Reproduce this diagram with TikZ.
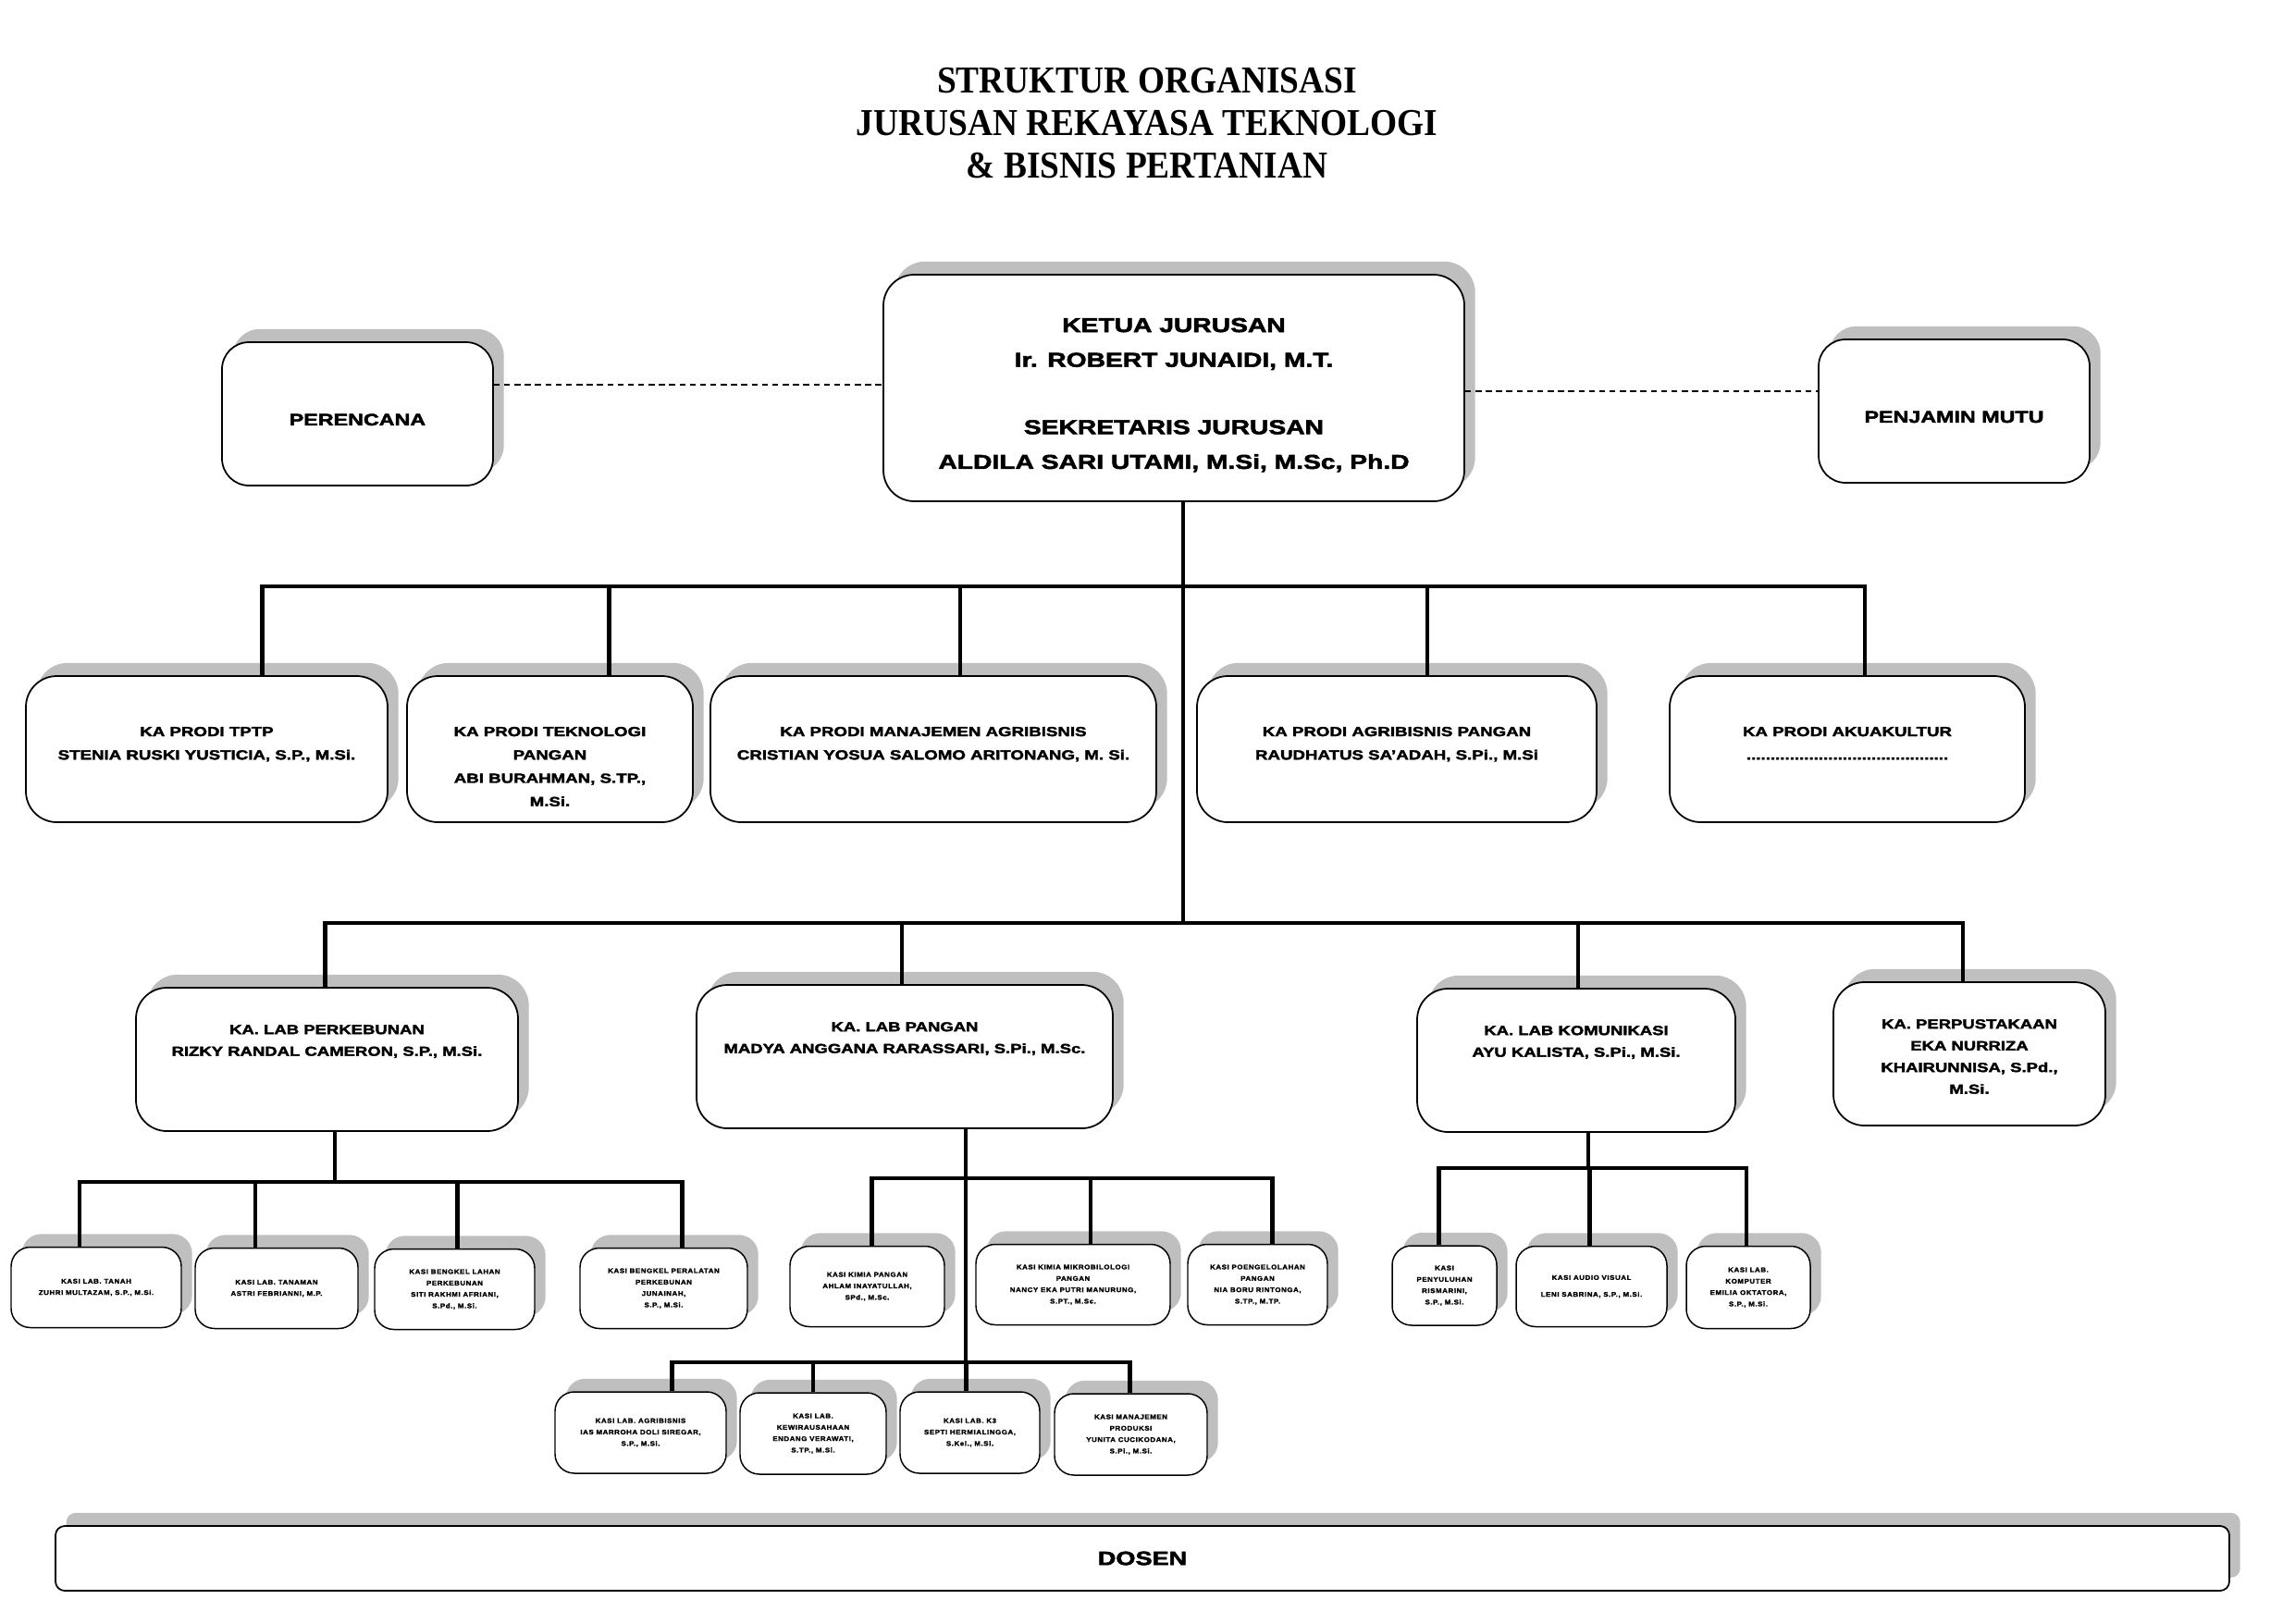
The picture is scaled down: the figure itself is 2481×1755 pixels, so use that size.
\documentclass[tikz,border=0pt]{standalone}
\usepackage{fontspec}
\setmainfont{Liberation Serif}
\newfontfamily\boxfont{Liberation Sans}[FakeStretch=1.3, BoldFeatures={FakeBold=2.5}]
\newfontfamily\kasifont{Liberation Sans}[FakeStretch=1.1, LetterSpace=8, BoldFeatures={FakeBold=2}]
\newfontfamily\titlefont{Liberation Serif}[FakeStretch=0.91]
\usetikzlibrary{shadows, positioning}
\newcommand\pxu{0.011971cm}
\newcommand\toplines[1]{\begin{tabular}[t]{@{}c@{}}#1\end{tabular}}
\tikzset{
    sz/.style n args={2}{minimum width=#1*\pxu, minimum height=#2*\pxu}
}

\begin{document}
\begin{tikzpicture}[
        x=\pxu, y=-\pxu,
        boxshadow/.style={drop shadow={shadow xshift=0.14cm, shadow yshift=0.17cm, fill=black!25, opacity=1}},
        box/.style={
            rectangle, rounded corners=0.4cm, draw=black, line width=0.6pt,
            fill=white, inner sep=0pt, align=center, boxshadow
        },
        title/.style={align=center, font=\titlefont\bfseries\fontsize{14}{15.6}\selectfont},
        headbox/.style={box, text height=0.742cm, text depth=2.19cm,
            font=\boxfont\bfseries\fontsize{7.4}{12.8}\selectfont},
        sidebox/.style={box, rounded corners=0.35cm, text height=1.077cm, text depth=0.778cm,
            font=\boxfont\bfseries\fontsize{6.1}{9}\selectfont},
        prodi/.style={box, text height=0.778cm, text depth=1.113cm,
            font=\boxfont\bfseries\fontsize{4.9}{8.6}\selectfont},
        lab/.style={box, text height=0.6cm, text depth=1.255cm,
            font=\boxfont\bfseries\fontsize{4.85}{8}\selectfont},
        kasi/.style={box, rounded corners=0.25cm, line width=0.5pt,
            font=\kasifont\bfseries\fontsize{2.45}{4.2}\selectfont},
        dosenbar/.style={box, rounded corners=0.12cm, font=\boxfont\bfseries\fontsize{7.1}{9}\selectfont},
        link/.style={line width=1.4pt},
        dotlink/.style={line width=0.6pt, dash pattern=on 2.2pt off 1.6pt}
    ]
        \path[use as bounding box, fill=white] (0,0) rectangle (2481,1755);

        % Title
        \node[title] (ttl) at (1240,133) {STRUKTUR ORGANISASI\\JURUSAN REKAYASA TEKNOLOGI\\\& BISNIS PERTANIAN};

        % Top level
        \node[headbox, sz={628}{245}] (head) at (1269,419.5) {\toplines{KETUA JURUSAN\\Ir. ROBERT JUNAIDI, M.T.\\[12pt]SEKRETARIS JURUSAN\\ALDILA SARI UTAMI, M.Si, M.Sc, Ph.D}};
        \node[sidebox, sz={293}{155}] (pren) at (386.5,447.5) {PERENCANA};
        \node[sidebox, sz={293}{155}] (mutu) at (2112.5,444.5) {PENJAMIN MUTU};

        % Prodi row
        \node[prodi, sz={391}{158}] (p1) at (223.5,810) {\toplines{KA PRODI TPTP\\STENIA RUSKI YUSTICIA, S.P., M.Si.}};
        \node[prodi, sz={309}{158}] (p2) at (594.5,810) {\toplines{KA PRODI TEKNOLOGI\\PANGAN\\ABI BURAHMAN, S.TP.,\\M.Si.}};
        \node[prodi, sz={482}{158}] (p3) at (1009,810) {\toplines{KA PRODI MANAJEMEN AGRIBISNIS\\CRISTIAN YOSUA SALOMO ARITONANG, M. Si.}};
        \node[prodi, sz={432}{158}] (p4) at (1510,810) {\toplines{KA PRODI AGRIBISNIS PANGAN\\RAUDHATUS SA’ADAH, S.Pi., M.Si}};
        \node[prodi, sz={384}{158}] (p5) at (1997,810) {\toplines{KA PRODI AKUAKULTUR\\..........................................}};

        % Lab row
        \node[lab, sz={413}{155}] (l1) at (353.5,1145.5) {\toplines{KA. LAB PERKEBUNAN\\RIZKY RANDAL CAMERON, S.P., M.Si.}};
        \node[lab, sz={450}{155}] (l2) at (978,1142.5) {\toplines{KA. LAB PANGAN\\MADYA ANGGANA RARASSARI, S.Pi., M.Sc.}};
        \node[lab, sz={344}{155}] (l3) at (1704,1146.5) {\toplines{KA. LAB KOMUNIKASI\\AYU KALISTA, S.Pi., M.Si.}};
        \node[lab, sz={294}{155}] (l4) at (2129,1139.5) {\toplines{KA. PERPUSTAKAAN\\EKA NURRIZA\\KHAIRUNNISA, S.Pd.,\\M.Si.}};

        % Kasi boxes
        \node[kasi, sz={184}{87}] (a1) at (104,1392) {KASI LAB. TANAH\\ZUHRI MULTAZAM, S.P., M.Si.};
        \node[kasi, sz={176}{87}] (a2) at (299,1393) {KASI LAB. TANAMAN\\ASTRI FEBRIANNI, M.P.};
        \node[kasi, sz={173}{87}] (a3) at (491.5,1394) {KASI BENGKEL LAHAN\\PERKEBUNAN\\SITI RAKHMI AFRIANI,\\S.Pd., M.Si.};
        \node[kasi, sz={181}{87}] (a4) at (717.5,1393) {KASI BENGKEL PERALATAN\\PERKEBUNAN\\JUNAINAH,\\S.P., M.Si.};
        \node[kasi, sz={167}{87}] (b1) at (937.5,1391) {KASI KIMIA PANGAN\\AHLAM INAYATULLAH,\\SPd., M.Sc.};
        \node[kasi, sz={210}{87}] (b2) at (1160,1389) {KASI KIMIA MIKROBILOLOGI\\PANGAN\\NANCY EKA PUTRI MANURUNG,\\S.PT., M.Sc.};
        \node[kasi, sz={151}{87}] (b3) at (1359.5,1389) {KASI POENGELOLAHAN\\PANGAN\\NIA BORU RINTONGA,\\S.TP., M.TP.};
        \node[kasi, sz={113}{86}] (c1) at (1561.5,1390) {KASI\\PENYULUHAN\\RISMARINI,\\S.P., M.Si.};
        \node[kasi, sz={163}{87}] (c2) at (1720.5,1391) {KASI AUDIO VISUAL\\[2pt]LENI SABRINA, S.P., M.Si.};
        \node[kasi, sz={134}{89}] (c3) at (1890,1392) {KASI LAB.\\KOMPUTER\\EMILIA OKTATORA,\\S.P., M.Si.};
        \node[kasi, sz={185}{88}] (d1) at (692.5,1549) {KASI LAB. AGRIBISNIS\\IAS MARROHA DOLI SIREGAR,\\S.P., M.Si.};
        \node[kasi, sz={158}{88}] (d2) at (879,1550) {KASI LAB.\\KEWIRAUSAHAAN\\ENDANG VERAWATI,\\S.TP., M.Si.};
        \node[kasi, sz={151}{88}] (d3) at (1048.5,1549) {KASI LAB. K3\\SEPTI HERMIALINGGA,\\S.Kel., M.Si.};
        \node[kasi, sz={165}{88}] (d4) at (1222.5,1551) {KASI MANAJEMEN\\PRODUKSI\\YUNITA CUCIKODANA,\\S.Pi., M.Si.};

        % Dosen
        \node[dosenbar, sz={2350}{70}] (dosen) at (1235,1685) {DOSEN};

        % Junctions
        \coordinate (j1) at (1279,634);
        \coordinate (j2) at (1279,998);
        \coordinate (k1) at (362,1278);
        \coordinate (k2) at (1044,1274);
        \coordinate (k3) at (1044,1473);
        \coordinate (k4) at (1717,1263);
        \coordinate (g1) at (0,416);
        \coordinate (g2) at (0,423);

        % Connectors
        \draw[dotlink] (pren.east |- g1) -- (head.west |- g1);
        \draw[dotlink] (head.east |- g2) -- (mutu.west |- g2);
        \draw[link] (head.south -| j1) -- (j2);
        \foreach \n/\dx in {p1/60, p2/64, p3/29, p4/33, p5/19}
            \draw[link] ([xshift=\dx*\pxu]\n.north) |- (j1);
        \foreach \n/\dx in {l1/-2, l2/-3, l3/2, l4/-7}
            \draw[link] ([xshift=\dx*\pxu]\n.north) |- (j2);
        \draw[link] (l1.south -| k1) -- (k1);
        \foreach \n/\dx in {a1/-18, a2/-23, a3/3, a4/20}
            \draw[link] ([xshift=\dx*\pxu]\n.north) |- (k1);
        \draw[link] (l2.south -| k2) -- (k3);
        \foreach \n/\dx in {b1/5, b2/19, b3/16}
            \draw[link] ([xshift=\dx*\pxu]\n.north) |- (k2);
        \foreach \n/\dx in {d1/34, d2/0, d3/-4, d4/-1}
            \draw[link] ([xshift=\dx*\pxu]\n.north) |- (k3);
        \draw[link] (l3.south -| k4) -- (k4);
        \foreach \n/\dx in {c1/-6, c2/-2, c3/-2}
            \draw[link] ([xshift=\dx*\pxu]\n.north) |- (k4);

    \end{tikzpicture}
\end{document}
